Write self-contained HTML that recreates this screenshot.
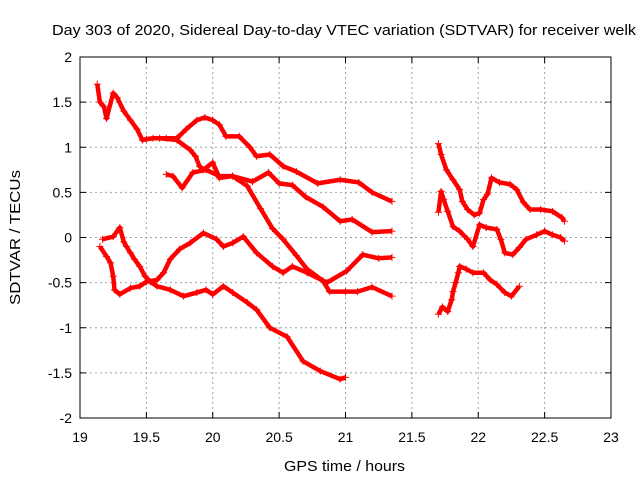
<!DOCTYPE html>
<html><head><meta charset="utf-8"><style>
html,body{margin:0;padding:0;background:#fff;}
svg{display:block;font-family:"Liberation Sans",sans-serif;}
</style></head><body>
<svg id="chart" width="640" height="480">
<text x="52" y="35" font-size="15" textLength="584" lengthAdjust="spacingAndGlyphs">Day 303 of 2020, Sidereal Day-to-day VTEC variation (SDTVAR) for receiver welk</text>
<text x="284" y="471" font-size="15" textLength="121" lengthAdjust="spacingAndGlyphs">GPS time / hours</text>
<text x="0" y="0" font-size="15" textLength="135" lengthAdjust="spacingAndGlyphs" transform="translate(20 305) rotate(-90)">SDTVAR / TECUs</text>
<g id="grid"></g>
<g id="ticks"></g>
<g id="marks"></g>
<rect x="80" y="57" width="531" height="361" fill="none" stroke="#000" stroke-width="1"></rect>
</svg>
<script>
const xTicks=[19,19.5,20,20.5,21,21.5,22,22.5,23];
const xTickLabels=["19","19.5","20","20.5","21","21.5","22","22.5","23"];
const yTicks=[-2,-1.5,-1,-0.5,0,0.5,1,1.5,2];
const yTickLabels=["-2","-1.5","-1","-0.5","0","0.5","1","1.5","2"];

const tA=[19.13,19.15,19.18,19.2,19.25,19.28,19.33,19.38,19.43,19.47,19.5,19.55,19.65,19.73,19.8,19.88,19.94,20.0,20.05,20.1,20.2,20.28,20.33,20.43,20.53,20.63,20.79,20.96,21.1,21.2,21.35];
const vA=[1.7,1.5,1.45,1.32,1.6,1.55,1.4,1.3,1.2,1.08,1.09,1.1,1.1,1.1,1.2,1.3,1.33,1.3,1.25,1.12,1.12,1.0,0.9,0.92,0.79,0.73,0.6,0.64,0.61,0.5,0.4];
const tB=[19.65,19.7,19.77,19.85,19.95,20.05,20.15,20.26,20.36,20.45,20.53,20.63,20.71,20.83,20.88,21.0,21.09,21.2,21.35];
const vB=[0.7,0.68,0.55,0.72,0.75,0.68,0.68,0.57,0.32,0.1,-0.02,-0.2,-0.35,-0.48,-0.6,-0.6,-0.6,-0.55,-0.65];
const tC=[19.6,19.73,19.83,19.87,19.9,19.93,20.0,20.05,20.15,20.3,20.42,20.5,20.6,20.7,20.83,20.96,21.05,21.2,21.35];
const vC=[1.1,1.08,0.97,0.9,0.79,0.75,0.83,0.66,0.68,0.62,0.72,0.6,0.58,0.45,0.34,0.18,0.2,0.06,0.07];
const tD=[19.17,19.25,19.3,19.33,19.35,19.38,19.41,19.45,19.49,19.53,19.58,19.68,19.78,19.88,19.95,20.0,20.08,20.15,20.26,20.33,20.43,20.56,20.68,20.81,20.96,21.0];
const vD=[-0.02,0.01,0.11,-0.05,-0.1,-0.17,-0.24,-0.32,-0.43,-0.49,-0.54,-0.58,-0.65,-0.61,-0.58,-0.63,-0.54,-0.61,-0.72,-0.8,-1.0,-1.1,-1.37,-1.48,-1.57,-1.55];
const tE=[19.15,19.2,19.23,19.25,19.26,19.3,19.38,19.45,19.5,19.58,19.63,19.68,19.75,19.83,19.93,20.03,20.08,20.15,20.23,20.33,20.45,20.53,20.6,20.71,20.86,21.01,21.13,21.25,21.35];
const vE=[-0.1,-0.21,-0.28,-0.43,-0.58,-0.63,-0.56,-0.54,-0.49,-0.47,-0.39,-0.24,-0.13,-0.06,0.05,-0.02,-0.1,-0.06,0.01,-0.17,-0.32,-0.39,-0.32,-0.39,-0.5,-0.37,-0.19,-0.23,-0.22];
const tF=[21.7,21.72,21.76,21.81,21.86,21.88,21.92,21.97,22.01,22.04,22.07,22.1,22.16,22.24,22.29,22.34,22.39,22.47,22.56,22.63,22.65];
const vF=[1.04,0.92,0.75,0.64,0.53,0.4,0.31,0.25,0.27,0.42,0.48,0.66,0.61,0.59,0.53,0.39,0.31,0.31,0.29,0.22,0.18];
const tG=[21.7,21.72,21.74,21.77,21.81,21.86,21.92,21.96,22.01,22.06,22.14,22.17,22.2,22.26,22.31,22.36,22.44,22.5,22.56,22.62,22.65];
const vG=[0.28,0.51,0.42,0.29,0.12,0.07,-0.02,-0.1,0.14,0.11,0.09,-0.02,-0.17,-0.19,-0.11,-0.02,0.03,0.07,0.03,0,-0.04];
const tH=[21.7,21.73,21.77,21.8,21.81,21.83,21.85,21.86,21.91,21.96,22.04,22.09,22.14,22.2,22.25,22.31];
const vH=[-0.85,-0.77,-0.82,-0.69,-0.6,-0.5,-0.39,-0.32,-0.35,-0.39,-0.39,-0.47,-0.52,-0.61,-0.65,-0.54];

const X0=80,X1=611,Y0=418,Y1=57;
function xs(t){return X0+(t-19)/(23-19)*(X1-X0);}
function ys(v){return Y0-(v+2)/4*(Y0-Y1);}
const NS="http://www.w3.org/2000/svg";
const grid=document.getElementById('grid'),ticks=document.getElementById('ticks'),marks=document.getElementById('marks');
xTicks.forEach((t,i)=>{
  const x=xs(t);
  if(i>0&&i<xTicks.length-1){const g=document.createElementNS(NS,'line');
  g.setAttribute('x1',x);g.setAttribute('x2',x);g.setAttribute('y1',Y1);g.setAttribute('y2',Y0);
  g.setAttribute('stroke','#a0a0a0');g.setAttribute('stroke-dasharray','2,3');
  
  
  grid.appendChild(g);}
  const tk=document.createElementNS(NS,'path');
  tk.setAttribute('d',`M${x} ${Y0}v-6M${x} ${Y1}v6`);tk.setAttribute('stroke','#000');
  
  
  ticks.appendChild(tk);
  const l=document.createElementNS(NS,'text');
  l.setAttribute('x',x);l.setAttribute('y',Y0+24);l.setAttribute('font-size','14');l.setAttribute('text-anchor','middle');
  l.textContent=xTickLabels[i];
  
  
  ticks.appendChild(l);
});
yTicks.forEach((v,i)=>{
  const y=ys(v);
  if(i>0&&i<yTicks.length-1){const g=document.createElementNS(NS,'line');
  g.setAttribute('x1',X0);g.setAttribute('x2',X1);g.setAttribute('y1',y);g.setAttribute('y2',y);
  g.setAttribute('stroke','#a0a0a0');g.setAttribute('stroke-dasharray','2,3');
  
  
  grid.appendChild(g);}
  const tk=document.createElementNS(NS,'path');
  tk.setAttribute('d',`M${X0} ${y}h6M${X1} ${y}h-6`);tk.setAttribute('stroke','#000');
  
  
  ticks.appendChild(tk);
  const l=document.createElementNS(NS,'text');
  l.setAttribute('x',X0-8);l.setAttribute('y',y+5);l.setAttribute('font-size','14');l.setAttribute('text-anchor','end');
  l.textContent=yTickLabels[i];
  
  
  ticks.appendChild(l);
});
const series=[[tA,vA],[tB,vB],[tC,vC],[tD,vD],[tE,vE],[tF,vF],[tG,vG],[tH,vH]];
series.forEach((s,si)=>{
  const [ts,vs]=s;
  const g=document.createElementNS(NS,'g');
  
  
  const pl=document.createElementNS(NS,'polyline');
  pl.setAttribute('points',ts.map((t,i)=>xs(t)+','+ys(vs[i])).join(' '));
  pl.setAttribute('fill','none');pl.setAttribute('stroke','#ff0000');pl.setAttribute('stroke-width','4.5');pl.setAttribute('stroke-linejoin','round');
  
  
  g.appendChild(pl);
  let d='';
  ts.forEach((t,i)=>{const x=xs(t),y=ys(vs[i]);d+=`M${x-3.5} ${y}h7M${x} ${y-3.5}v7`;});
  const p=document.createElementNS(NS,'path');
  p.setAttribute('d',d);p.setAttribute('stroke','#ff0000');p.setAttribute('stroke-width','1');
  
  
  g.appendChild(p);
  marks.appendChild(g);
});
</script>
</body></html>
